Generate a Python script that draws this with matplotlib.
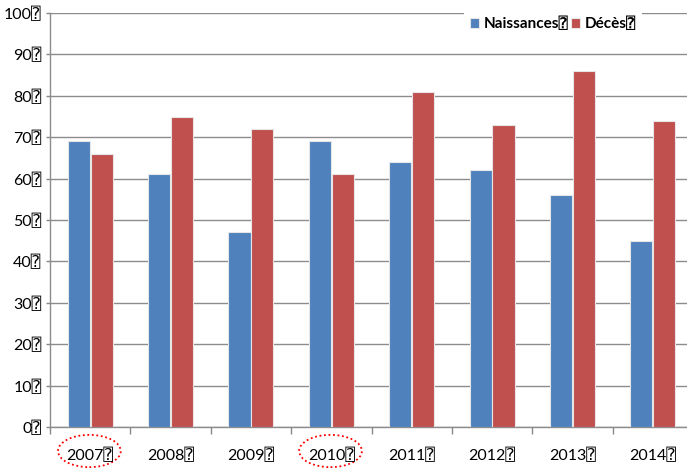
import matplotlib
matplotlib.use("Agg")
import matplotlib.pyplot as plt
import matplotlib.transforms as mtransforms
from matplotlib.patches import Ellipse
import numpy as np

years = ["2007", "2008", "2009", "2010", "2011", "2012", "2013", "2014"]
naissances = [69, 61, 47, 69, 64, 62, 56, 45]
deces = [66, 75, 72, 61, 81, 73, 86, 74]
y_ticks = [0, 10, 20, 30, 40, 50, 60, 70, 80, 90, 100]
series_names = ["Naissances", "Décès"]
circled = ["2007", "2010"]
BOX = "\u2370"

plt.rcParams['font.family'] = ['Lato', 'DejaVu Sans', 'DejaVu Sans Mono']

fig = plt.figure(figsize=(6.87, 4.68), dpi=100)
ax = fig.add_axes([50/687, 41/468, 643/687, 414/468])

x = np.arange(len(years))
w = 0.275
blue = "#4F81BD"
red = "#C0504D"
b1 = ax.bar(x - 0.142, naissances, w, color=blue, edgecolor="#e6e6e6", linewidth=0.8, zorder=3,
            label=series_names[0] + BOX)
b2 = ax.bar(x + 0.142, deces, w, color=red, edgecolor="#e6e6e6", linewidth=0.8, zorder=3,
            label=series_names[1] + BOX)

ax.set_xlim(-0.5, 7.5)
ax.set_ylim(0, 100)
ax.set_yticks(y_ticks)
ax.set_yticklabels([f"{v}{BOX}" for v in y_ticks], fontsize=11.5)
ax.set_xticks(x)
ax.set_xticklabels([f"{y}{BOX}" for y in years], fontsize=11.5)
ax.set_xticks(np.arange(-0.5, 8, 1), minor=True)
ax.tick_params(axis="x", which="major", length=0, pad=15)
ax.tick_params(axis="x", which="minor", length=5, color="#888888", width=1)
ax.tick_params(axis="y", length=3, color="#888888", width=1, pad=3)
ax.grid(axis="y", color="#8c8c8c", linewidth=1, zorder=0)
for s in ["top", "right"]:
    ax.spines[s].set_visible(False)
for s in ["left", "bottom"]:
    ax.spines[s].set_color("#8c8c8c")
    ax.spines[s].set_linewidth(1)

trans = mtransforms.blended_transform_factory(ax.transData, ax.transAxes)
for yr in circled:
    i = years.index(yr)
    e = Ellipse((i - 0.01, -0.058), 0.78, 0.078, transform=trans, fill=False,
                edgecolor="#ff0000", linestyle=(0, (1, 1.5)), linewidth=1.3, clip_on=False)
    ax.add_patch(e)

leg = fig.legend(handles=[b1, b2], loc="center", bbox_to_anchor=(553/687, 1 - 24/468),
                 ncol=2, frameon=True, facecolor="white", edgecolor="none", framealpha=1,
                 handlelength=0.6, handleheight=0.6, handletextpad=0.3, columnspacing=0.2,
                 borderpad=0.4, fancybox=False, prop={"weight": "bold", "size": 11})

fig.savefig("out.png", dpi=100)
